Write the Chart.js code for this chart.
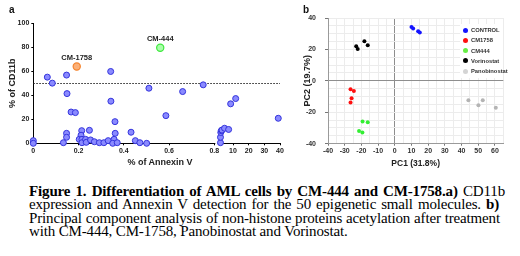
<!DOCTYPE html>
<html>
<head>
<meta charset="utf-8">
<script src="https://cdn.jsdelivr.net/npm/chart.js@4.4.1/dist/chart.umd.min.js"></script>
<style>
  body { margin: 0; background: #fff; }
  #page { position: relative; width: 520px; height: 256px; overflow: hidden; font-family: "Liberation Sans", Arial, sans-serif; }
  canvas { position: absolute; top: 0; }
  #chartA { left: 0; }
  #chartB { left: 290px; }
  .panel { position: absolute; font-weight: bold; font-size: 10px; line-height: 10px; color: #111; }
  #xTitleA { position: absolute; left: 100px; width: 120px; top: 157px; text-align: center; font-weight: bold; font-size: 9px; line-height: 11px; color: #222; }
  #legendB { position: absolute; left: 460px; top: 24px; width: 43px; background: #fff; }
  .item { position: absolute; left: 0; height: 8px; white-space: nowrap; font-size: 5.8px; font-weight: bold; line-height: 8px; color: #333; }
  .dot { position: absolute; left: 2.5px; top: 1.5px; width: 5px; height: 5px; border-radius: 50%; }
  .item span { position: absolute; left: 11px; }
  .cap { position: absolute; left: 29px; font-family: "Liberation Serif", "Times New Roman", serif; font-size: 15px; line-height: 13.3px; color: #000; white-space: nowrap; letter-spacing: -0.15px; }
  .just { text-align: justify; text-align-last: justify; }
</style>
</head>
<body>
<div id="page">
  <canvas id="chartA" width="290" height="170"></canvas>
  <canvas id="chartB" width="230" height="170"></canvas>
  <div class="panel" style="left:9px;top:5px">a</div>
  <div class="panel" style="left:303px;top:5px">b</div>
  <div id="xTitleA">% of Annexin V</div>
  <div id="legendB"></div>
  <div class="cap just" style="top:185px;width:476px"><b>Figure 1. Differentiation of AML cells by CM-444 and CM-1758.a)</b> CD11b</div>
  <div class="cap just" style="top:198.3px;width:470px">expression and Annexin V detection for the 50 epigenetic small molecules. <b>b)</b></div>
  <div class="cap just" style="top:211.6px;width:471px">Principal component analysis of non-histone proteins acetylation after treatment</div>
  <div class="cap" style="top:224.9px">with CM-444, CM-1758, Panobinostat and Vorinostat.</div>
</div>
<script>
// ---- panel a: % Annexin V vs % CD11b for the epigenetic molecules ----
// molecules with Annexin V below 0.8 (left part of the broken axis)
const annexinLow = [0.062, 0.084, 0.147, 0.149, 0.342, 0.511, 0.66, 0.751, 0.343, 0.167, 0.186, 0.361, 0.586, 0.432,
  0, 0, 0.147, 0.147, 0.133, 0.214, 0.211, 0.203, 0.215, 0.215, 0.231, 0.234, 0.248, 0.253, 0.27, 0.292, 0.312,
  0.331, 0.362, 0.357, 0.351, 0.371, 0.451, 0.471, 0.501];
const cd11bLow = [55, 50, 56.7, 41.3, 59.7, 45.8, 43, 48.6, 35, 26, 25.5, 18, 23, 9.2,
  2.2, 0, 8.3, 5, 0.5, 10.5, 6.7, 3.3, 3.3, 0.5, 3.3, 0.8, 10.8, 2.8, 1.3, 0.5, 0.5,
  2.2, 8.3, 3.3, 0, 0.5, 2.2, 0.5, 0];
// molecules with Annexin V above 0.8 (right part of the broken axis)
const annexinHigh = [2.0, 2.0, 2.2, 2.5, 3.0, 4.6, 7.2, 8.5, 11.7, 38.9];
const cd11bHigh = [0.5, 5, 9, 10.5, 11, 12.5, 11.5, 32.8, 37.2, 20.8];
// highlighted compounds
const hitNames = ['CM-1758', 'CM-444'];
const hitAnnexin = [0.192, 0.561];
const hitCd11b = [63.8, 79.4];
const cd11bCutoff = 50;
const annexinTicksLow = [0, 0.2, 0.4, 0.6, 0.8];
const annexinTicksHigh = [10, 20, 30, 40];
const cd11bTicks = [0, 20, 40, 60, 80, 100];

// ---- panel b: PCA of non-histone protein acetylation ----
const groups = ['CONTROL', 'CM1758', 'CM444', 'Vorinostat', 'Panobinostat'];
const pc1 = [
  [10, 11, 14, 15],
  [-26.5, -24.5, -25.9, -26.5],
  [-19.3, -16.2, -21.4, -19.4],
  [-23.1, -22.2, -18.2, -16.2],
  [44.1, 50.1, 52.7, 60.5]
];
const pc2 = [
  [34.2, 33.3, 31.6, 30.8],
  [-5.3, -6.4, -11.1, -13.7],
  [-25.8, -26.3, -31.9, -32.9],
  [22, 20.3, 25.2, 22.6],
  [-12.4, -15.6, -12.4, -17.1]
];
const groupColors = ['#1414ff', '#ff1010', '#33ee33', '#000000', '#b4b4b4'];
const legendColors = ['#1414ff', '#ff1010', '#66ee44', '#000000', '#d4d4d4'];

Chart.defaults.font.family = '"Liberation Sans", Arial, sans-serif';
Chart.defaults.color = '#222';
Chart.defaults.animation = false;

const toPoints = (xs, ys) => xs.map((x, i) => ({ x: x, y: ys[i] }));
const tickFont = { size: 7, weight: 'bold' };

// dotted 50% line across both halves of the broken axis + labels for the hits
const cutoffLine = {
  id: 'cutoffLine',
  beforeDatasetsDraw(chart) {
    const ctx = chart.ctx;
    const area = chart.chartArea;
    const x1 = chart.scales.x1;
    // white gap = axis break
    ctx.save();
    ctx.fillStyle = '#fff';
    ctx.fillRect(x1.right + 1, area.bottom - 1, 3, 5);
    const y = Math.round(chart.scales.y.getPixelForValue(cd11bCutoff)) + 0.5;
    ctx.strokeStyle = '#222';
    ctx.lineWidth = 1;
    ctx.setLineDash([1.5, 1.5]);
    ctx.beginPath();
    ctx.moveTo(area.left, y);
    ctx.lineTo(area.right, y);
    ctx.stroke();
    ctx.restore();
  },
  afterDatasetsDraw(chart) {
    const ctx = chart.ctx;
    ctx.save();
    ctx.font = 'bold 7.5px "Liberation Sans", Arial, sans-serif';
    ctx.fillStyle = '#222';
    ctx.textAlign = 'center';
    ctx.textBaseline = 'middle';
    hitNames.forEach((name, i) => {
      const pt = chart.getDatasetMeta(2 + i).data[0];
      ctx.fillText(name, pt.x, pt.y - 9);
    });
    ctx.restore();
  }
};

const axisA = (extra) => Object.assign({
  type: 'linear',
  ticks: { font: tickFont, padding: 2, color: '#222', autoSkip: false, maxRotation: 0, callback: (v) => String(v) },
  grid: { drawOnChartArea: false, tickLength: 2, color: '#000' },
  border: { color: '#000' }
}, extra);

new Chart(document.getElementById('chartA'), {
  type: 'scatter',
  data: {
    datasets: [
      { data: toPoints(annexinLow, cd11bLow), xAxisID: 'x1', backgroundColor: '#8a8aff', borderColor: '#3434dc', borderWidth: 1, pointRadius: 3, clip: false },
      { data: toPoints(annexinHigh, cd11bHigh), xAxisID: 'x2', backgroundColor: '#8a8aff', borderColor: '#3434dc', borderWidth: 1, pointRadius: 3, clip: false },
      { data: [{ x: hitAnnexin[0], y: hitCd11b[0] }], xAxisID: 'x1', backgroundColor: '#fbb078', borderColor: '#f5842e', borderWidth: 1.2, pointRadius: 3.6, clip: false },
      { data: [{ x: hitAnnexin[1], y: hitCd11b[1] }], xAxisID: 'x1', backgroundColor: '#aaffaa', borderColor: '#3ee83e', borderWidth: 1.2, pointRadius: 3.6, clip: false }
    ]
  },
  options: {
    responsive: false,
    layout: { padding: { top: 23, right: 10, left: 0, bottom: 0 } },
    plugins: { legend: { display: false }, tooltip: { enabled: false } },
    scales: {
      y: axisA({
        position: 'left', min: 0, max: 100,
        afterBuildTicks: (s) => { s.ticks = cd11bTicks.map((v) => ({ value: v })); },
        title: { display: true, text: '% of CD11b', color: '#222', font: { size: 9, weight: 'bold' }, padding: { top: 7.6, bottom: 0 } },
        afterFit: (s) => { s.width = 33.3; }
      }),
      x1: axisA({
        position: 'bottom', stack: 'annexin', stackWeight: 181, min: 0, max: 0.8,
        afterBuildTicks: (s) => { s.ticks = annexinTicksLow.map((v) => ({ value: v })); },
        afterFit: (s) => { s.height = 26.7; }
      }),
      x2: axisA({
        position: 'bottom', stack: 'annexin', stackWeight: 65.7, min: -1.94, max: 40,
        afterBuildTicks: (s) => { s.ticks = annexinTicksHigh.map((v) => ({ value: v })); },
        afterFit: (s) => { s.height = 26.7; }
      })
    }
  },
  plugins: [cutoffLine]
});

// ---- panel b ----
const gridColor = (ctx) => (ctx.tick && ctx.tick.value === 0 ? '#8e8e8e' : '#ececec');

new Chart(document.getElementById('chartB'), {
  type: 'scatter',
  data: {
    datasets: groups.map((g, i) => ({
      label: g,
      data: toPoints(pc1[i], pc2[i]),
      backgroundColor: groupColors[i],
      borderWidth: 0,
      pointRadius: 2
    }))
  },
  options: {
    responsive: false,
    layout: { padding: { top: 18, right: 16.7, left: 0, bottom: 0 } },
    plugins: { legend: { display: false }, tooltip: { enabled: false } },
    scales: {
      x: {
        type: 'linear', min: -40, max: 65,
        ticks: { stepSize: 5, font: tickFont, color: '#333', padding: 1.5, autoSkip: false, maxRotation: 0,
          callback: (v) => (v % 10 === 0 && v <= 60 ? String(v) : '') },
        grid: { color: gridColor, tickLength: 2,
          tickColor: (ctx) => (ctx.tick && ctx.tick.value % 10 === 0 ? '#777' : 'rgba(0,0,0,0)') },
        border: { color: '#9a9a9a' },
        title: { display: true, text: 'PC1 (31.8%)', color: '#222', font: { size: 8.5, weight: 'bold' }, padding: { top: 0, bottom: 1.2 } },
        afterFit: (s) => { s.height = 26.3; }
      },
      y: {
        type: 'linear', min: -40, max: 40,
        ticks: { stepSize: 5, font: tickFont, color: '#333', padding: 9, autoSkip: false,
          callback: (v) => (v % 20 === 0 ? String(v) : '') },
        grid: { color: gridColor, tickLength: 3,
          tickColor: (ctx) => (ctx.tick && ctx.tick.value % 20 === 0 ? '#777' : 'rgba(0,0,0,0)') },
        border: { color: '#9a9a9a' },
        title: { display: true, text: 'PC2 (19.7%)', color: '#222', font: { size: 9, weight: 'bold' }, padding: { top: 12.6, bottom: 0 } },
        afterFit: (s) => { s.width = 38; }
      }
    }
  }
});

// legend of panel b, drawn inside the plot at top right
const legendBox = document.getElementById('legendB');
legendBox.style.height = (groups.length * 10.3 + 2) + 'px';
groups.forEach((g, i) => {
  const row = document.createElement('div');
  row.className = 'item';
  row.style.top = (2 + i * 10.3) + 'px';
  row.innerHTML = '<div class="dot" style="background:' + legendColors[i] + '"></div><span>' + g + '</span>';
  legendBox.appendChild(row);
});
</script>
</body>
</html>
